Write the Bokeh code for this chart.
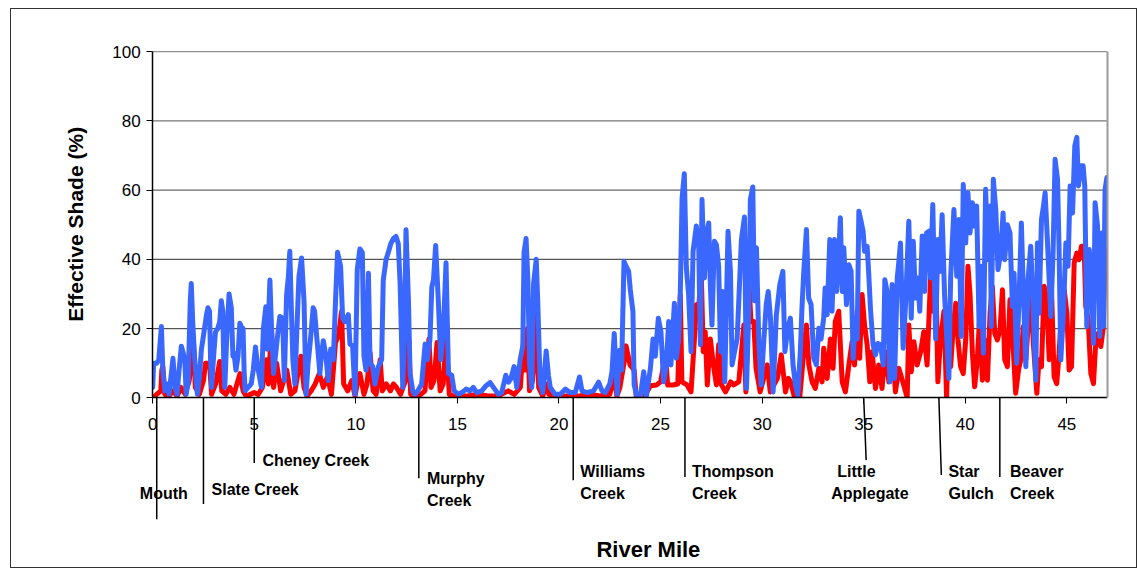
import math
from bokeh.plotting import figure
from bokeh.models import FixedTicker, Range1d, LinearAxis
from bokeh.core.properties import value
from bokeh.embed import file_html
from bokeh.resources import INLINE

# ---- data ----
blue_mile = [0.0, 0.05, 0.2, 0.3, 0.43, 0.5, 0.6, 0.7, 0.8, 0.9, 1.0, 1.1, 1.2, 1.3, 1.41, 1.5, 1.58, 1.65, 1.75, 1.85,
             1.9, 1.97, 2.06, 2.15, 2.2, 2.3, 2.4, 2.55, 2.65, 2.72, 2.8, 2.85, 2.9, 3.0, 3.09, 3.2, 3.3, 3.38, 3.45, 3.5,
             3.55, 3.65, 3.76, 3.87, 3.95, 4.0, 4.1, 4.2, 4.29, 4.4, 4.45, 4.5, 4.55, 4.7, 4.85, 4.95, 5.06, 5.15, 5.2, 5.35,
             5.45, 5.57, 5.65, 5.77, 5.85, 5.95, 6.06, 6.15, 6.26, 6.4, 6.48, 6.59, 6.68, 6.75, 6.82, 6.9, 7.0, 7.1, 7.2, 7.33,
             7.45, 7.55, 7.65, 7.74, 7.9, 7.97, 8.07, 8.23, 8.3, 8.4, 8.53, 8.64, 8.76, 8.89, 8.95, 9.0, 9.1, 9.25, 9.35, 9.46,
             9.63, 9.71, 9.84, 9.96, 10.07, 10.2, 10.32, 10.4, 10.5, 10.62, 10.7, 10.83, 10.94, 11.11, 11.27, 11.35, 11.49, 11.6, 11.72, 11.85,
             11.98, 12.09, 12.18, 12.31, 12.4, 12.47, 12.59, 12.67, 12.8, 12.9, 13.0, 13.24, 13.41, 13.52, 13.65, 13.74, 13.82, 13.93, 14.06, 14.18,
             14.31, 14.44, 14.56, 14.72, 14.84, 15.05, 15.22, 15.43, 15.62, 15.78, 15.95, 16.2, 16.41, 16.61, 16.8, 17.02, 17.18, 17.38, 17.51, 17.63,
             17.79, 17.92, 18.09, 18.22, 18.28, 18.38, 18.47, 18.55, 18.66, 18.75, 18.88, 18.96, 19.07, 19.2, 19.37, 19.48, 19.57, 19.81, 20.06, 20.31,
             20.55, 20.8, 21.01, 21.13, 21.38, 21.7, 21.95, 22.12, 22.28, 22.5, 22.61, 22.72, 22.86, 22.99, 23.08, 23.2, 23.3, 23.43, 23.51, 23.64,
             23.7, 23.84, 24.0, 24.17, 24.3, 24.5, 24.63, 24.74, 24.89, 25.02, 25.15, 25.28, 25.4, 25.51, 25.68, 25.78, 25.89, 25.97, 26.06, 26.17,
             26.27, 26.38, 26.5, 26.6, 26.76, 26.88, 26.96, 27.04, 27.16, 27.26, 27.37, 27.45, 27.53, 27.65, 27.75, 27.86, 27.95, 28.06, 28.16, 28.32,
             28.44, 28.52, 28.64, 28.77, 28.98, 29.13, 29.23, 29.34, 29.42, 29.54, 29.62, 29.72, 29.84, 29.95, 30.08, 30.2, 30.3, 30.41, 30.54, 30.7,
             30.87, 31.02, 31.12, 31.26, 31.39, 31.52, 31.64, 31.75, 31.88, 31.96, 32.05, 32.18, 32.29, 32.41, 32.54, 32.67, 32.79, 32.9, 33.03, 33.1,
             33.2, 33.33, 33.44, 33.56, 33.66, 33.77, 33.85, 33.94, 34.02, 34.15, 34.27, 34.38, 34.48, 34.59, 34.68, 34.76, 34.87, 34.97, 35.04, 35.17,
             35.25, 35.33, 35.46, 35.58, 35.69, 35.83, 35.96, 36.04, 36.15, 36.29, 36.4, 36.52, 36.65, 36.73, 36.81, 36.94, 37.06, 37.22, 37.34, 37.44,
             37.55, 37.66, 37.76, 37.88, 38.0, 38.09, 38.21, 38.29, 38.4, 38.54, 38.65, 38.75, 38.86, 38.98, 39.08, 39.19, 39.28, 39.44, 39.58, 39.69,
             39.8, 39.9, 40.02, 40.13, 40.23, 40.35, 40.46, 40.56, 40.68, 40.79, 40.89, 41.0, 41.12, 41.22, 41.28, 41.38, 41.5, 41.61, 41.74, 41.86,
             41.94, 42.07, 42.2, 42.32, 42.4, 42.53, 42.65, 42.76, 42.86, 42.98, 43.09, 43.22, 43.35, 43.47, 43.55, 43.63, 43.75, 43.85, 43.93, 44.04,
             44.21, 44.32, 44.42, 44.54, 44.62, 44.7, 44.83, 44.95, 45.06, 45.16, 45.28, 45.39, 45.49, 45.57, 45.69, 45.8, 45.88, 45.98, 46.1, 46.21,
             46.31, 46.39, 46.51, 46.62, 46.72, 46.8, 46.88, 46.97]
blue_shade = [3, 10, 10, 11, 20.6, 8, 2, 4, 1, 6, 11.4, 3, 1, 8, 14.9, 13, 11, 1, 5, 28,
              33, 22, 12, 5, 1, 6, 14, 20, 24, 26, 25, 11, 3, 12, 19, 20, 22, 28, 25, 10,
              3, 18, 30, 26, 12, 13, 8, 12, 21.5, 20, 20, 8, 2, 3, 4, 8, 14.7, 10, 8, 3,
              20, 26.3, 14, 34, 20, 7, 13, 18, 23.5, 23, 5, 29.5, 35, 42.3, 27, 11, 4, 20, 35, 40.4,
              28, 1, 10, 15, 26, 25, 18, 7, 12, 16.5, 12, 5, 14, 11, 20, 28, 42, 38, 23, 22,
              24, 15.5, 15, 1, 37, 43, 42, 12, 8, 36, 10, 9, 4, 9, 11, 34, 40, 42, 44.5, 46,
              46.6, 44.5, 33, 3, 20, 48.5, 28, 7, 2, 1, 1.5, 4, 15.5, 11, 17, 32, 34, 44, 28, 11,
              20, 39, 7, 6.5, 2, 1, 1.5, 2.5, 2, 3, 1.5, 2, 3.5, 4.4, 2.8, 1, 1.5, 6.5, 4.5, 5.5,
              9, 3, 11, 15, 42, 46, 34, 10, 3, 33, 40, 27, 4.5, 1.5, 13.5, 6.5, 3, 1, 1, 2.5,
              1.5, 1.5, 6, 2, 1.5, 2, 4.5, 2, 1.5, 4, 7.5, 18.6, 1, 13.7, 8, 39.4, 38, 36.5, 31.2, 24.9,
              3.7, 0.3, 0.3, 7.5, 0.3, 8.5, 17, 12, 23, 19, 4.6, 9.5, 22, 9.5, 27.3, 11.4, 17, 29.8, 57.8, 64.7,
              37.5, 29.8, 13.3, 42.3, 49.6, 43.3, 15.3, 57.3, 34.6, 47.1, 50.5, 32.7, 21, 45.2, 44.2, 38, 13.3, 30.7, 4.6, 48.1,
              36.5, 9.5, 13.3, 17, 45.7, 52.2, 2.7, 25, 57.3, 60.9, 28, 43.3, 15.3, 3.7, 16.2, 26.9, 30.7, 23, 1.7, 24,
              32.7, 36.5, 13.3, 20, 23, 9.5, 3.7, 0.8, 13.3, 25.9, 36.5, 48.6, 28.8, 26.9, 11.4, 9.5, 20.1, 17, 23, 31.7,
              24, 45.7, 25, 45.7, 30.7, 41.3, 52, 30.7, 43.3, 26.9, 38.4, 36.5, 11.4, 23, 17, 53.9, 51, 48.1, 42.3, 43.7,
              35.5, 25.9, 15.3, 12.4, 15.7, 15.3, 9.5, 34.1, 30.7, 4.6, 32.7, 5.6, 34.6, 39.4, 44.7, 14.3, 26.9, 51, 23, 45.2,
              28.8, 34.6, 25, 46.7, 30.7, 47.6, 48.1, 34.6, 55.8, 17, 45.7, 36.5, 52.9, 29.8, 18.2, 5.6, 35.1, 54.4, 35.1, 51.5,
              17.7, 61.6, 44.7, 59.2, 47.6, 56.3, 49.6, 55.4, 20.6, 38, 12.9, 60.2, 39.9, 55.4, 20.6, 63.1, 54.4, 37, 41.9, 53.4,
              39.9, 50, 47.6, 26.4, 36, 10, 29.3, 50.5, 30.3, 9, 34.1, 43.8, 24.4, 5.1, 44.7, 24.4, 51.5, 55.4, 59.2, 45.7,
              23.5, 41.8, 68.9, 63.1, 41.8, 10.9, 24.4, 44.7, 38, 61.2, 53.4, 72.8, 75.2, 61.2, 67, 67, 61.2, 20.6, 42.8, 34.1,
              15.7, 56.3, 49.6, 17.7, 47.6, 20.6, 60.2, 63.6]

red_mile = [0.0, 0.2, 0.4, 0.45, 0.5, 0.6, 0.8, 1.0, 1.2, 1.4, 1.6, 1.8, 2.0, 2.1, 2.3, 2.5, 2.6, 2.8, 2.9, 3.1,
            3.3, 3.4, 3.6, 3.8, 4.0, 4.3, 4.45, 4.6, 4.8, 5.0, 5.2, 5.4, 5.6, 5.7, 5.85, 5.95, 6.1, 6.3, 6.6, 6.8,
            7.0, 7.3, 7.45, 7.6, 7.8, 8.0, 8.2, 8.4, 8.6, 8.8, 9.0, 9.15, 9.3, 9.4, 9.6, 9.8, 9.96, 10.1, 10.2, 10.4,
            10.55, 10.7, 10.85, 11.0, 11.2, 11.3, 11.5, 11.7, 11.85, 12.0, 12.2, 12.45, 12.6, 12.7, 12.9, 13.2, 13.4, 13.6, 13.7, 13.85,
            14.0, 14.15, 14.3, 14.45, 14.6, 14.8, 15.0, 15.5, 16.0, 16.5, 17.0, 17.5, 17.8, 18.1, 18.25, 18.35, 18.45, 18.55, 18.7, 18.8,
            18.9, 19.0, 19.2, 19.4, 19.5, 20.0, 21.0, 21.5, 22.0, 22.5, 22.7, 22.85, 23.0, 23.2, 23.3, 23.5, 23.7, 23.8, 24.2, 24.5,
            24.8, 25.0, 25.24, 25.35, 25.6, 25.85, 25.97, 26.05, 26.3, 26.5, 26.7, 26.76, 26.88, 27.0, 27.1, 27.2, 27.3, 27.45, 27.6, 27.75,
            27.86, 28.0, 28.2, 28.45, 28.6, 28.85, 29.1, 29.2, 29.34, 29.45, 29.59, 29.7, 29.9, 30.25, 30.4, 30.75, 30.94, 31.15, 31.3, 31.4,
            31.6, 31.85, 32.05, 32.18, 32.3, 32.46, 32.62, 32.79, 32.95, 33.03, 33.2, 33.36, 33.49, 33.6, 33.77, 33.94, 34.1, 34.27, 34.43, 34.55,
            34.68, 34.8, 34.92, 35.04, 35.17, 35.3, 35.41, 35.58, 35.74, 35.9, 36.07, 36.24, 36.4, 36.56, 36.73, 36.97, 37.14, 37.22, 37.34, 37.47,
            37.63, 37.8, 37.96, 38.12, 38.29, 38.42, 38.54, 38.65, 38.78, 38.95, 39.08, 39.19, 39.28, 39.41, 39.53, 39.64, 39.77, 39.9, 40.02, 40.13,
            40.23, 40.35, 40.46, 40.59, 40.72, 40.84, 40.96, 41.09, 41.22, 41.33, 41.45, 41.58, 41.71, 41.83, 41.94, 42.07, 42.2, 42.32, 42.48, 42.62,
            42.73, 42.86, 42.98, 43.09, 43.22, 43.35, 43.52, 43.63, 43.75, 43.88, 44.01, 44.13, 44.24, 44.37, 44.5, 44.62, 44.73, 44.87, 45.0, 45.11,
            45.23, 45.36, 45.49, 45.6, 45.72, 45.85, 45.93, 46.05, 46.18, 46.31, 46.43, 46.54, 46.67, 46.8, 46.88, 46.97]
red_shade = [0, 1, 2, 8, 9, 1, 0.5, 2, 0.5, 3, 1, 5, 17, 3, 1, 5, 10, 10, 1, 4,
             10.5, 2, 1, 3, 1, 7, 2, 0.5, 1, 1.5, 1, 3, 11, 4, 20, 3, 10, 2, 8, 1,
             2, 12, 3, 0.5, 2, 4, 7, 3, 6, 1, 16, 18, 25, 4, 2, 5, 0.5, 5, 7, 1,
             4, 13, 2, 1, 11, 2, 4, 2, 4, 3, 1, 5, 17, 1, 0.5, 1, 2, 17, 3, 5,
             16, 2, 4, 17.5, 1, 0.5, 0.5, 0.5, 1, 0.5, 0.5, 2, 1, 3, 16, 8, 20, 2, 5, 12,
             26, 3, 0.5, 4, 1, 0.5, 0.5, 1, 0.5, 1, 6, 0.5, 3, 10, 15, 9.5, 8, 0.3, 0.3, 3.5,
             3.7, 4.6, 12.4, 3.7, 3.7, 4, 29.8, 4.6, 3.7, 1.7, 20, 26.9, 26, 37, 13.3, 19, 3.7, 17, 9.5, 3.7,
             15.3, 3.7, 1.7, 4.6, 3.7, 4.6, 21, 1.7, 34.6, 22, 22, 8.5, 1.7, 9.5, 1.7, 5.6, 12.4, 1.7, 5.6, 4.6,
             0, 0, 13.3, 21, 9.5, 4.6, 2.7, 8.5, 4.6, 14.3, 5.6, 17, 8.5, 22, 25, 4.6, 1.7, 9.5, 16.2, 9.5,
             25, 11.4, 29.8, 21, 15.3, 4.6, 13.3, 2.7, 9.5, 2.7, 13.3, 4.6, 17, 1.7, 8.5, 3.7, 0, 21, 7.5, 16.2,
             9.5, 13.3, 19.1, 9.5, 34.6, 25, 39.4, 4.6, 17, 25, 0, 23, 9, 20.6, 27.3, 16.7, 9, 7, 16.7, 38,
             30.3, 12.9, 3.2, 11, 24.4, 5.1, 16.7, 5.1, 24.4, 32.2, 18.6, 16.7, 19.6, 31.2, 11, 9, 28.3, 18.6, 1.3, 8,
             11, 20.6, 11, 20.6, 30.3, 15.7, 1.3, 11, 9, 32.2, 28.3, 11, 32.2, 6.1, 4.1, 12.9, 24.4, 31.2, 24.4, 8,
             9, 39, 41.8, 39.9, 43.8, 43.8, 26.4, 22.5, 7, 4.1, 16.7, 18.6, 14.8, 20.6, 41.8, 42.8]

trib_names = ["Mouth", "Slate Creek", "Cheney Creek", "Murphy\nCreek", "Williams\nCreek",
              "Thompson\nCreek", "Little\nApplegate", "Star\nGulch", "Beaver\nCreek"]
trib_mile = [0.2, 2.5, 5.0, 13.1, 20.7, 26.2, 35.0, 38.7, 41.7]

x_ticks = [0, 5, 10, 15, 20, 25, 30, 35, 40, 45]
y_ticks = [0, 20, 40, 60, 80, 100]

FONT = "Liberation Sans"
X_MIN, X_MAX = -6.9, 47      # room left of the y axis for its labels
Y_MIN, Y_MAX = -49.3, 102.9  # room below the x axis for the tributary annotations
Y_TOP = 100                  # top of the value axis

p = figure(width=1127, height=560, output_backend="svg", toolbar_location=None,
           x_range=Range1d(X_MIN, X_MAX), y_range=Range1d(Y_MIN, Y_MAX),
           min_border_left=1, min_border_right=31, min_border_top=32, min_border_bottom=1,
           background_fill_color="white", border_fill_color="white")
p.margin = (8, 0, 0, 10)
p.styles = {"border": "1px solid #333333", "box-sizing": "border-box"}
p.outline_line_color = None
p.xgrid.visible = False
p.ygrid.visible = False

# horizontal grid lines from 0 to the right edge of the plot area
grid_y = y_ticks[1:]
grid_col = ["#555555", "#555555", "#666666", "#777777", "#909090"]
p.segment(x0=[0] * len(grid_y), x1=[X_MAX] * len(grid_y), y0=grid_y, y1=grid_y,
          line_color=grid_col, line_width=1.2)

p.line(red_mile, red_shade, line_color="#FF0000", line_width=5, line_join="round", line_cap="round")
p.line(blue_mile, blue_shade, line_color="#3A68FF", line_width=5, line_join="round", line_cap="round")

# mask the parts of the lines that fall outside the plot area
p.quad(left=[X_MIN, X_MIN], right=[X_MAX, 0], bottom=[Y_MIN, Y_MIN], top=[0, Y_MAX],
       fill_color="white", line_color=None)

for ax, ticks in ((p.xaxis, x_ticks), (p.yaxis, y_ticks)):
    ax.ticker = FixedTicker(ticks=ticks)
    ax.fixed_location = 0
    ax.axis_line_color = "black"
    ax.axis_line_width = 1.5
    ax.major_tick_line_color = "black"
    ax.major_tick_line_width = 1
    ax.major_tick_in = 0
    ax.major_tick_out = 6
    ax.minor_tick_line_color = None
    ax.major_label_text_font = FONT
    ax.major_label_text_font_size = "17px"
    ax.major_label_text_color = "black"

p.xaxis.bounds = (0, X_MAX)
p.xaxis.major_label_standoff = 14
p.yaxis.bounds = (0, Y_TOP)
p.yaxis.major_label_standoff = 6

# right frame border (gray), from 0 to 100
right_ax = LinearAxis(bounds=(0, Y_TOP), ticker=FixedTicker(ticks=[]),
                      axis_line_color="#9a9a9a", axis_line_width=2,
                      major_tick_line_color=None, minor_tick_line_color=None)
p.add_layout(right_ax, "right")

# axis titles
p.text(x=[-3.8], y=[50.1], text=["Effective Shade (%)"], angle=math.pi / 2,
       text_align="center", text_baseline="middle", text_font=value(FONT),
       text_font_style="bold", text_font_size="21px", text_color="black")
p.text(x=[24.4], y=[-43.8], text=["River Mile"], text_align="center", text_baseline="middle",
       text_font=value(FONT), text_font_style="bold", text_font_size="22px", text_color="black")

# tributary marker lines and labels
line_end = [-35.1, -30.7, -18.8, -23.2, -23.8, -22.9, -18.0, -22.3, -22.9]
line_dx = [0, 0, 0, 0, 0, 0, 0.12, 0.12, 0]
p.segment(x0=trib_mile, y0=[0] * len(trib_mile),
          x1=[m + d for m, d in zip(trib_mile, line_dx)], y1=line_end,
          line_color="black", line_width=1.5)

label_dx = [0.35, 0.4, 0.4, 0.4, 0.35, 0.35, -1.3, 0.47, 0.5]
label_y = [-27.5, -26.4, -18.0, -23.2, -21.2, -21.2, -21.2, -21.2, -21.2]
tx, ty, tt, ta = [], [], [], []
for name, m, ldx, ly in zip(trib_names, trib_mile, label_dx, label_y):
    for i, part in enumerate(name.split("\n")):
        xx = m + ldx
        if part == "Applegate":
            xx -= 0.3
        tx.append(xx)
        ty.append(ly - i * 6.4)
        tt.append(part)
        ta.append("center" if name == "Mouth" else "left")
p.text(x=tx, y=ty, text=tt, text_align=ta, text_baseline="middle",
       text_font=value(FONT), text_font_style="bold", text_font_size="16px", text_color="black")

open("out.html", "w").write(file_html(p, INLINE))
